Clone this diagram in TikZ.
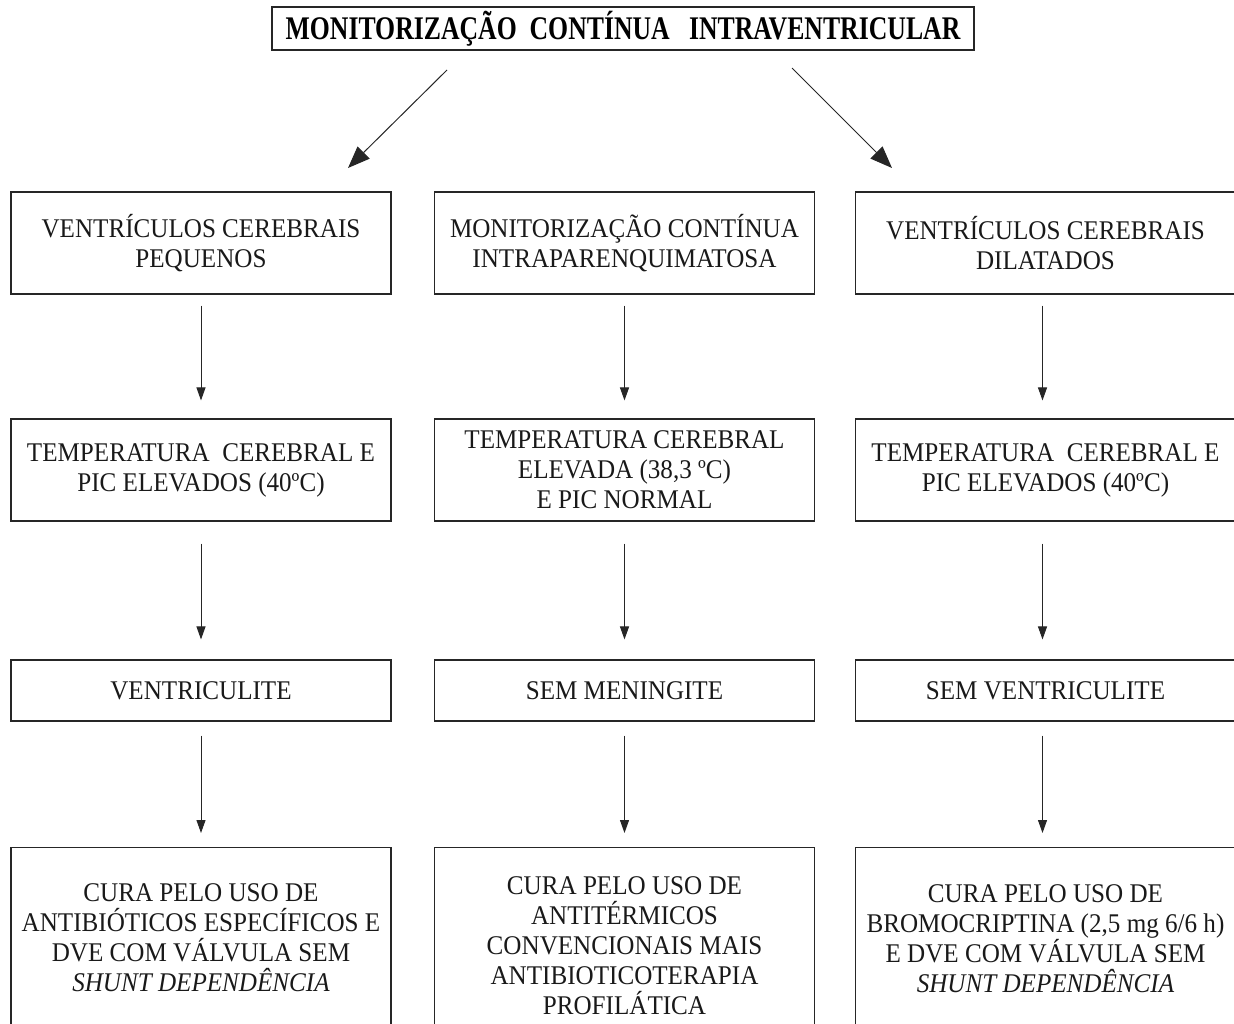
\documentclass[tikz,border=0pt]{standalone}
\usepackage{fontspec}
\setmainfont{Liberation Serif}[FakeStretch=0.93]
\newfontfamily\titlefont{Liberation Serif}[FakeStretch=0.78]
\usetikzlibrary{arrows.meta}
\begin{document}
\begin{tikzpicture}[x=1pt,y=-1pt,
  box/.style={draw=black!85,line width=1.1pt,rectangle,inner sep=0pt,align=center,
    font=\fontsize{27}{30}\selectfont,text=black!90,minimum width=380pt},
  tall/.style={box,minimum height=102pt},
  short/.style={box,minimum height=61pt},
  vline/.style={draw=black!85,line width=1pt,-{Triangle[length=13pt,width=9pt]}},
  dline/.style={draw=black!85,line width=1pt,-{Triangle[length=22pt,width=17pt]}}]
\useasboundingbox (0,0) rectangle (1234,1023);
% title
\node[draw=black!85,line width=1.1pt,minimum width=702pt,minimum height=43pt,inner sep=0pt,
  font=\titlefont\bfseries\fontsize{33}{36}\selectfont] (title) at (623,28.5)
  {MONITORIZAÇÃO\ \ CONTÍNUA\ \ \ INTRAVENTRICULAR};
% row 1
\node[tall] (a1) at (201,243) {VENTRÍCULOS CEREBRAIS\\PEQUENOS};
\node[tall] (b1) at (624.5,243) {MONITORIZAÇÃO CONTÍNUA\\INTRAPARENQUIMATOSA};
\node[tall] (c1) at (1045.5,243) {VENTRÍCULOS CEREBRAIS\\DILATADOS};
% row 2
\node[tall] (a2) at (201,470) {TEMPERATURA\ \ CEREBRAL E\\PIC ELEVADOS (40ºC)};
\node[tall] (b2) at (624.5,470) {TEMPERATURA CEREBRAL\\ELEVADA (38,3 ºC)\\E PIC NORMAL};
\node[tall] (c2) at (1045.5,470) {TEMPERATURA\ \ CEREBRAL E\\PIC ELEVADOS (40ºC)};
% row 3
\node[short] (a3) at (201,690.5) {VENTRICULITE};
\node[short] (b3) at (624.5,690.5) {SEM MENINGITE};
\node[short] (c3) at (1045.5,690.5) {SEM VENTRICULITE};
% row 4
\node[box,anchor=north,minimum height=180pt] (a4) at (201,847)
  {CURA PELO USO DE\\ANTIBIÓTICOS ESPECÍFICOS E\\DVE COM VÁLVULA SEM\\\textit{SHUNT DEPENDÊNCIA}};
\node[box,anchor=north,minimum height=196pt] (b4) at (624.5,847)
  {CURA PELO USO DE\\ANTITÉRMICOS\\CONVENCIONAIS MAIS\\ANTIBIOTICOTERAPIA\\PROFILÁTICA};
\node[box,anchor=north,minimum height=182pt] (c4) at (1045.5,847)
  {CURA PELO USO DE\\BROMOCRIPTINA (2,5 mg 6/6 h)\\E DVE COM VÁLVULA SEM\\\textit{SHUNT DEPENDÊNCIA}};
% diagonal arrows
\coordinate (dl0) at (447,70);
\coordinate (dl1) at (348,168);
\coordinate (dr0) at (792,68);
\coordinate (dr1) at (892,168);
\draw[dline] (dl0) -- (dl1);
\draw[dline] (dr0) -- (dr1);
% vertical arrows
\foreach \u/\v/\s/\e in {a1/a2/11/18,a2/a3/22/20,a3/a4/14/14,
                         b1/b2/11/18,b2/b3/22/20,b3/b4/14/14}{
  \draw[vline,shorten <=\s pt,shorten >=\e pt] (\u.south) -- (\v.north);
}
\foreach \u/\v/\s/\e in {c1/c2/11/18,c2/c3/22/20,c3/c4/14/14}{
  \draw[vline,shorten <=\s pt,shorten >=\e pt] ([xshift=-3pt]\u.south) -- ([xshift=-3pt]\v.north);
}
\end{tikzpicture}
\end{document}
